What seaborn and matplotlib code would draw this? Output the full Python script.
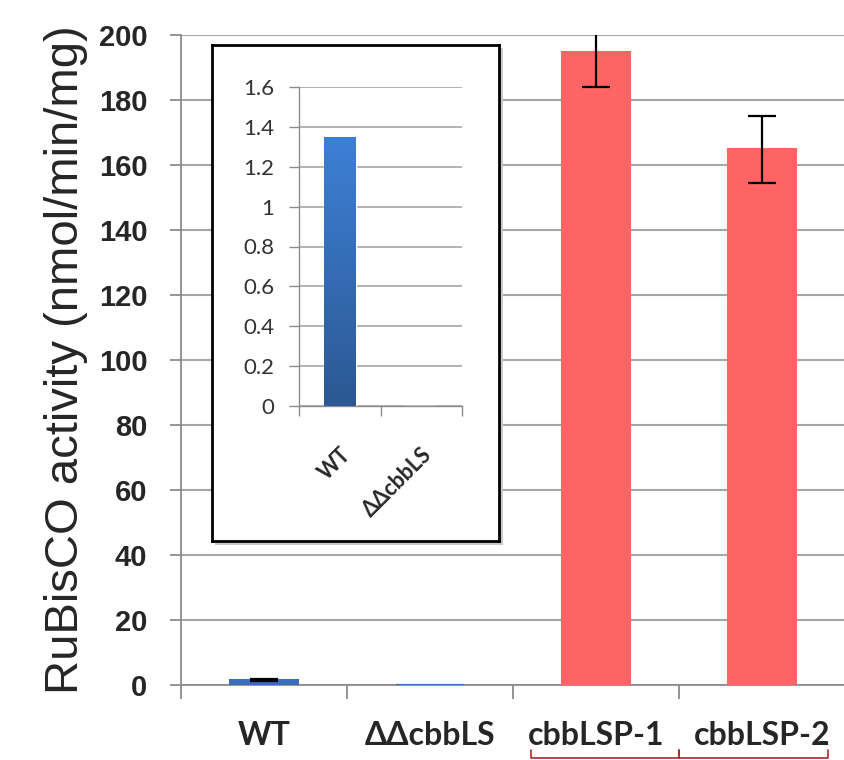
import numpy as np
import pandas as pd
import matplotlib.pyplot as plt
import seaborn as sns

# data
strains = ['WT', 'ΔΔcbbLS', 'cbbLSP-1', 'cbbLSP-2']
activity = [1.35, 0.02, 194.7, 164.8]
activity_err = [0.3, 0.0, 10.6, 10.3]
bar_colors = ['#3a6fb5', '#3a6fb5', '#ff6464', '#ff6464']
main_ticks = [0, 20, 40, 60, 80, 100, 120, 140, 160, 180, 200]

inset_strains = ['WT', 'ΔΔcbbLS']
inset_activity = [1.35, 0.0]
inset_ticks = [0, 0.2, 0.4, 0.6, 0.8, 1, 1.2, 1.4, 1.6]
inset_tick_labels = ['0', '0.2', '0.4', '0.6', '0.8', '1', '1.2', '1.4', '1.6']

df = pd.DataFrame({'strain': strains, 'activity': activity, 'err': activity_err})
df_in = pd.DataFrame({'strain': inset_strains, 'activity': inset_activity})

sns.set_theme(style='white')
plt.rcParams['font.family'] = ['Liberation Sans', 'DejaVu Sans']
calibri_like = ['Lato', 'DejaVu Sans']

fig = plt.figure(figsize=(8.45, 7.6), dpi=100)
ax = fig.add_axes([0.214, 0.099, 0.786, 0.855])

grid_col = '#a6a6a6'
sns.barplot(data=df, x='strain', y='activity', hue='strain', palette=bar_colors,
            legend=False, width=0.41, errorbar=None, ax=ax, saturation=1,
            linewidth=1.5, zorder=3)
for p, c in zip(ax.patches, bar_colors):
    p.set_edgecolor(c)
has_err = df['err'] > 0
ax.errorbar(np.arange(len(strains))[has_err], df['activity'][has_err], yerr=df['err'][has_err],
            fmt='none', ecolor='black', elinewidth=1.6, capsize=10, capthick=1.6, zorder=4)

ax.set_ylim(0, 200)
ax.set_xlim(-0.5, 3.5)
ax.set_yticks(main_ticks)
ax.set_yticklabels([str(t) for t in main_ticks], fontsize=21, fontweight='bold')
ax.yaxis.grid(True, color=grid_col, lw=1.5)
ax.set_axisbelow(True)
ax.set_xlabel('')
ax.set_ylabel('RuBisCO activity (nmol/min/mg)', fontsize=34, labelpad=8)
ax.set_xticks(range(len(strains)))
ax.set_xticklabels(strains, fontsize=23, fontweight='bold', family=calibri_like)
ax.set_xticks(np.arange(-0.5, 4, 1), minor=True)
ax.tick_params(axis='x', which='major', length=0, pad=26)
ax.tick_params(axis='x', which='minor', length=10, width=1.3, color='#8c8c8c', direction='out', bottom=True)
ax.tick_params(axis='y', length=8, width=1.3, color='#8c8c8c', direction='out', left=True, pad=16)
for s in ['top', 'right']:
    ax.spines[s].set_visible(False)
for s in ['left', 'bottom']:
    ax.spines[s].set_color('#8c8c8c')
    ax.spines[s].set_linewidth(1.3)

# red bracket below the two cbbLSP labels
tr = ax.get_xaxis_transform()
yb, yt = -0.112, -0.1
for x0, x1 in [(2 - 0.39, 2.5), (2.5, 3 + 0.4)]:
    ax.plot([x0, x0, x1, x1], [yt, yb, yb, yt], color='#b0282a',
            lw=1.2, transform=tr, clip_on=False)

# inset frame with shadow
fw, fh = 845, 760
shadow = fig.add_axes([215 / fw, 1 - 545 / fh, 288 / fw, 497 / fh], zorder=5)
shadow.set_facecolor('#c8c8c8')
shadow.set_xticks([]); shadow.set_yticks([])
for s in shadow.spines.values():
    s.set_visible(False)
frame = fig.add_axes([212 / fw, 1 - 541 / fh, 287 / fw, 496 / fh], zorder=6)
frame.set_facecolor('white')
frame.set_xticks([]); frame.set_yticks([])
for s in frame.spines.values():
    s.set_color('black')
    s.set_linewidth(2)

ins = fig.add_axes([299 / fw, 1 - 406 / fh, 163 / fw, 319 / fh], zorder=7)
ins.patch.set_alpha(0)
sns.barplot(data=df_in, x='strain', y='activity', color='#3670b8', width=0.39,
            errorbar=None, ax=ins, saturation=1, zorder=3)
# vertical gradient fill for the inset bar
grad = np.linspace(0, 1, 256).reshape(-1, 1)
cmap = sns.blend_palette(['#2c5893', '#3d80d6'], as_cmap=True)
for p in ins.patches:
    if p.get_height() > 0:
        x0, w, h = p.get_x(), p.get_width(), p.get_height()
        im = ins.imshow(grad, cmap=cmap, origin='lower', aspect='auto',
                        extent=[x0, x0 + w, 0, h], zorder=3.5)
        im.set_clip_path(p)
ins.set_xlim(-0.5, 1.5)
ins.set_ylim(0, 1.6)
ins.set_yticks(inset_ticks)
ins.set_yticklabels(inset_tick_labels, fontsize=16, color='#333333', family=calibri_like)
ins.yaxis.grid(True, color=grid_col, lw=1.2)
ins.set_axisbelow(True)
ins.set_xlabel('')
ins.set_ylabel('')
ins.set_xticks(range(len(inset_strains)))
ins.set_xticklabels(inset_strains, rotation=45, ha='right', rotation_mode='anchor',
                    fontsize=15.5, fontweight='bold', family=calibri_like)
ins.set_xticks([-0.5, 0.5, 1.5], minor=True)
ins.tick_params(axis='x', which='major', length=0, pad=27)
ins.tick_params(axis='x', which='minor', length=7, width=1, color='#8c8c8c', direction='out', bottom=True)
ins.tick_params(axis='y', length=7, width=1, color='#8c8c8c', direction='out', left=True, pad=11)
for s in ['top', 'right']:
    ins.spines[s].set_visible(False)
for s in ['left', 'bottom']:
    ins.spines[s].set_color('#8c8c8c')
    ins.spines[s].set_linewidth(1.0)

fig.savefig('out.png', dpi=100)
